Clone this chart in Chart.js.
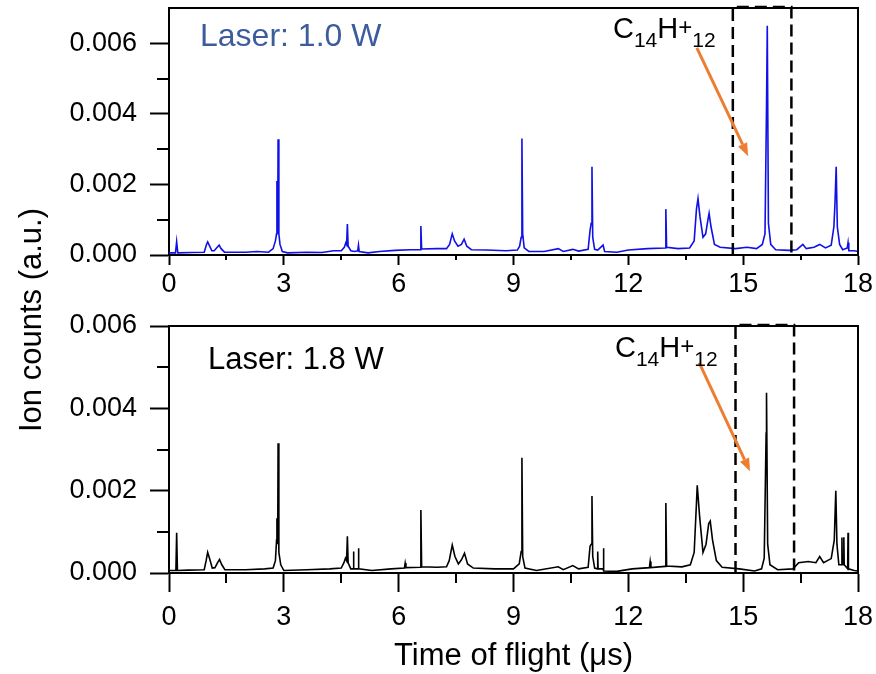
<!DOCTYPE html>
<html>
<head>
<meta charset="utf-8">
<script src="https://cdn.jsdelivr.net/npm/chart.js@4.4.1/dist/chart.umd.min.js"></script>
<style>
  body { margin: 0; background: #fff; }
  #wrap { position: relative; width: 876px; height: 674px; }
  canvas { position: absolute; left: 0; }
  #yTitle {
    position: absolute; left: 31px; top: 320px;
    transform: translate(-50%, -50%) rotate(-90deg);
    font: 31px "Liberation Sans", Arial, sans-serif; color: #000; white-space: nowrap;
  }
</style>
</head>
<body>
<div id="wrap">
  <canvas id="topChart" width="876" height="300" style="top:0"></canvas>
  <canvas id="bottomChart" width="876" height="374" style="top:300px"></canvas>
  <div id="yTitle">Ion counts (a.u.)</div>
</div>
<script>
// time of flight (us) and ion counts
const tof10W = [0.00, 0.17, 0.20, 0.23, 0.60, 0.92, 0.98, 1.01, 1.05, 1.12, 1.18, 1.26, 1.31, 1.36, 1.45,
  2.00, 2.30, 2.60, 2.72, 2.78, 2.81, 2.82, 2.84, 2.85, 2.87, 2.90, 2.96, 3.10, 3.60, 4.00, 4.30, 4.50,
  4.58, 4.62, 4.64, 4.66, 4.68, 4.75, 4.85, 4.93, 4.95, 4.97, 5.20, 5.50, 5.90, 6.30, 6.56, 6.58, 6.60,
  7.00, 7.25, 7.33, 7.40, 7.46, 7.55, 7.64, 7.71, 7.78, 7.90, 8.30, 8.80, 9.10, 9.16, 9.20, 9.22, 9.24,
  9.28, 9.40, 9.80, 10.17, 10.30, 10.55, 10.70, 10.95, 11.00, 11.03, 11.05, 11.07, 11.12, 11.20, 11.34,
  11.38, 11.70, 12.00, 12.50, 12.96, 12.98, 13.00, 13.30, 13.60, 13.72, 13.78, 13.82, 13.87, 13.95, 14.02,
  14.08, 14.11, 14.16, 14.25, 14.40, 14.80, 15.10, 15.35, 15.50, 15.57, 15.61, 15.63, 15.66, 15.72, 15.85,
  16.20, 16.40, 16.56, 16.65, 16.85, 17.00, 17.15, 17.30, 17.37, 17.40, 17.43, 17.46, 17.52, 17.60, 17.72,
  17.74, 17.76, 17.90, 18.00];
const counts10W = [0.00006, 0.00006, 0.00038, 0.00006, 0.00007, 0.00008, 0.0003, 0.00037, 0.00028, 0.00012, 0.00012, 0.00022, 0.00028, 0.00018, 0.00008,
  0.00008, 0.0001, 0.00008, 0.00018, 0.0004, 0.0006, 0.0021, 0.0006, 0.00328, 0.0006, 0.0003, 0.0001, 0.00006, 0.00008, 0.00007, 0.00012, 0.00012,
  0.00022, 0.00035, 0.0003, 0.00088, 0.00025, 0.00012, 0.0001, 0.00012, 0.00028, 0.0001, 0.00006, 0.0001, 0.00013, 0.00015, 0.00015, 0.00082, 0.00017,
  0.00018, 0.00018, 0.0003, 0.0006, 0.0004, 0.00025, 0.0003, 0.00045, 0.00025, 0.00015, 0.00014, 0.00012, 0.00014, 0.00025, 0.0005, 0.0033, 0.0006,
  0.0002, 0.0001, 0.0001, 0.00018, 0.0001, 0.00016, 0.00011, 0.00016, 0.0007, 0.0009, 0.0025, 0.0005, 0.00016, 0.00014, 0.00028,
  0.0001, 0.00008, 0.00014, 0.00018, 0.0002, 0.0013, 0.00022, 0.00018, 0.0002, 0.0004, 0.0013, 0.0016, 0.0011, 0.0005, 0.0006,
  0.001, 0.00118, 0.0008, 0.0003, 0.00022, 0.00018, 0.00022, 0.00018, 0.0003, 0.0006, 0.0042, 0.0065, 0.0009, 0.0003, 0.00015,
  0.00013, 0.00015, 0.0003, 0.00018, 0.00022, 0.0003, 0.0002, 0.00028, 0.0008, 0.0015, 0.0025, 0.0008, 0.0003, 0.00015, 0.0002,
  0.00035, 0.00012, 0.00012, 0.0001];

const tof18W = [0.00, 0.18, 0.20, 0.22, 0.50, 0.92, 0.97, 1.01, 1.06, 1.13, 1.20, 1.27, 1.32, 1.38, 1.46,
  2.00, 2.50, 2.72, 2.78, 2.81, 2.82, 2.84, 2.85, 2.87, 2.92, 3.00, 3.60, 4.20, 4.50, 4.57, 4.61, 4.64,
  4.66, 4.68, 4.75, 4.81, 4.82, 4.83, 4.94, 4.95, 4.96, 5.30, 5.80, 6.15, 6.17, 6.19, 6.56, 6.58, 6.60,
  7.00, 7.25, 7.32, 7.40, 7.47, 7.56, 7.64, 7.72, 7.80, 7.95, 8.50, 9.00, 9.15, 9.20, 9.22, 9.24, 9.30,
  9.60, 10.17, 10.30, 10.55, 10.70, 10.95, 11.00, 11.03, 11.05, 11.07, 11.12, 11.19, 11.20, 11.21, 11.34,
  11.35, 11.36, 11.70, 12.10, 12.55, 12.57, 12.59, 12.96, 12.98, 13.00, 13.40, 13.62, 13.72, 13.78, 13.80,
  13.86, 13.95, 14.03, 14.10, 14.14, 14.20, 14.30, 14.45, 14.90, 15.30, 15.48, 15.55, 15.60, 15.61, 15.64,
  15.70, 15.90, 16.30, 16.45, 16.70, 16.90, 17.00, 17.10, 17.30, 17.38, 17.42, 17.45, 17.50, 17.57, 17.58,
  17.59, 17.62, 17.63, 17.64, 17.73, 17.74, 17.75, 17.90, 18.00];
const counts18W = [0.00006, 0.00006, 0.00098, 0.00006, 0.00007, 0.00008, 0.0003, 0.0005, 0.00035, 0.00012, 0.00013, 0.00025, 0.00033, 0.0002, 0.00008,
  0.00008, 0.0001, 0.00012, 0.0003, 0.0008, 0.00133, 0.0007, 0.00315, 0.0005, 0.0002, 0.00006, 0.00008, 0.0001, 0.00012, 0.00025, 0.00036, 0.0003,
  0.00089, 0.00025, 0.0001, 0.0001, 0.00052, 0.0001, 0.0001, 0.0006, 0.0001, 0.00006, 0.0001, 0.00012, 0.00024, 0.00013, 0.00014, 0.00153, 0.00015,
  0.00014, 0.00015, 0.0003, 0.00068, 0.0004, 0.00022, 0.00032, 0.00048, 0.00022, 0.00012, 0.0001, 0.0001, 0.00022, 0.00052, 0.0028, 0.0004, 0.00012,
  0.00006, 0.00015, 0.00008, 0.00018, 0.0001, 0.00014, 0.00065, 0.0007, 0.00187, 0.0004, 0.00012, 0.0001, 0.00052, 0.0001, 0.0001,
  0.0006, 0.00005, 0.00004, 0.0001, 0.00013, 0.00028, 0.00013, 0.00016, 0.0017, 0.00017, 0.00015, 0.0002, 0.0005, 0.0017, 0.00213,
  0.0014, 0.0005, 0.0007, 0.0012, 0.00126, 0.0008, 0.0003, 0.00014, 0.0001, 0.00005, 0.0001, 0.00036, 0.0034, 0.00438, 0.0007,
  0.0002, 0.00008, 0.0001, 0.00025, 0.00028, 0.00025, 0.0004, 0.00025, 0.00035, 0.0008, 0.002, 0.0007, 0.0002, 0.0002, 0.00086,
  0.0002, 0.0002, 0.00087, 0.0002, 0.0001, 0.00098, 0.0001, 0.00006, 0.00005];

const FONT = '"Liberation Sans", Arial, sans-serif';
Chart.defaults.font.family = FONT;
Chart.defaults.color = '#000';

const isMajorY = v => Math.round(v * 1000) % 2 === 0;

// frame, minor ticks, dashed box, arrow and the text labels
const panelExtras = {
  id: 'panelExtras',
  afterDraw(chart, args, o) {
    const ctx = chart.ctx, a = chart.chartArea;
    const x = chart.scales.x, y = chart.scales.y;
    ctx.save();
    ctx.strokeStyle = '#000';
    ctx.lineWidth = 2;
    ctx.beginPath();
    ctx.moveTo(a.left - 1, a.top);
    ctx.lineTo(a.right, a.top);
    ctx.lineTo(a.right, a.bottom);
    ctx.stroke();

    // minor ticks
    ctx.beginPath();
    y.ticks.forEach(t => {
      if (isMajorY(t.value) || t.value >= y.max) return;
      const py = Math.round(y.getPixelForValue(t.value));
      ctx.moveTo(a.left - o.yMinorLen, py);
      ctx.lineTo(a.left, py);
    });
    for (let i = 0; i < x.ticks.length - 1; i++) {
      const px = Math.round(x.getPixelForValue((x.ticks[i].value + x.ticks[i + 1].value) / 2));
      ctx.moveTo(px, a.bottom);
      ctx.lineTo(px, a.bottom + o.xMinorLen);
    }
    ctx.stroke();

    // dashed box
    const bx1 = x.getPixelForValue(o.box[0]), bx2 = x.getPixelForValue(o.box[1]);
    ctx.setLineDash([12, 6]);
    ctx.lineWidth = 2.5;
    ctx.beginPath();
    ctx.moveTo(bx1, a.bottom);
    ctx.lineTo(bx1, a.top - 1);
    ctx.lineTo(bx2, a.top - 1);
    ctx.lineTo(bx2, a.bottom);
    ctx.stroke();
    ctx.setLineDash([]);

    // arrow
    const ax1 = x.getPixelForValue(o.arrow[0]), ay1 = y.getPixelForValue(o.arrow[1]);
    const ax2 = x.getPixelForValue(o.arrow[2]), ay2 = y.getPixelForValue(o.arrow[3]);
    const ang = Math.atan2(ay2 - ay1, ax2 - ax1);
    const head = 13, hw = 5;
    ctx.strokeStyle = ctx.fillStyle = '#ed7d31';
    ctx.lineWidth = 3;
    ctx.beginPath();
    ctx.moveTo(ax1, ay1);
    ctx.lineTo(ax2 - head * Math.cos(ang), ay2 - head * Math.sin(ang));
    ctx.stroke();
    ctx.beginPath();
    ctx.moveTo(ax2, ay2);
    ctx.lineTo(ax2 - head * Math.cos(ang) + hw * Math.sin(ang), ay2 - head * Math.sin(ang) - hw * Math.cos(ang));
    ctx.lineTo(ax2 - head * Math.cos(ang) - hw * Math.sin(ang), ay2 - head * Math.sin(ang) + hw * Math.cos(ang));
    ctx.closePath();
    ctx.fill();

    // laser label
    ctx.textBaseline = 'alphabetic';
    ctx.textAlign = 'left';
    ctx.fillStyle = o.labelColor;
    ctx.font = o.labelSize + 'px ' + FONT;
    ctx.fillText(o.label, a.left + o.labelPos[0], a.top + o.labelPos[1]);

    // C14H+12
    ctx.fillStyle = '#000';
    const parts = [['C', 29, 0], ['14', 21, 9], ['H', 29, 0], ['+', 24, -3], ['12', 21, 9]];
    let cx = a.left + o.formulaPos[0];
    const base = a.top + o.formulaPos[1];
    parts.forEach(p => {
      ctx.font = p[1] + 'px ' + FONT;
      ctx.fillText(p[0], cx, base + p[2]);
      cx += ctx.measureText(p[0]).width;
    });
    ctx.restore();
  }
};

function makePanel(id, xs, ys, o) {
  const pts = xs.map((v, i) => ({ x: v, y: ys[i] }));
  return new Chart(document.getElementById(id), {
    type: 'line',
    data: {
      datasets: [{
        data: pts,
        borderColor: o.color,
        borderWidth: 1.6,
        pointRadius: 0,
        tension: 0
      }]
    },
    options: {
      responsive: false,
      animation: false,
      events: [],
      layout: { padding: { left: 0, right: 18, top: o.padTop, bottom: 0 } },
      plugins: {
        legend: { display: false },
        tooltip: { enabled: false },
        panelExtras: o.extras
      },
      scales: {
        x: {
          type: 'linear',
          min: 0,
          max: 18,
          ticks: { stepSize: 3, font: { size: 27 }, padding: o.xTickPad, maxRotation: 0 },
          grid: { drawOnChartArea: false, tickLength: o.xTickLen, tickWidth: 2, tickColor: '#000' },
          border: { color: '#000', width: 2 },
          title: o.xTitle,
          afterFit(s) { s.height = o.xHeight; s.paddingLeft = 0; s.paddingRight = 0; }
        },
        y: {
          min: 0,
          max: o.yMax,
          ticks: {
            stepSize: 0.001,
            autoSkip: false,
            font: { size: 27 },
            padding: 13,
            callback: v => isMajorY(v) ? v.toFixed(3) : ''
          },
          grid: {
            drawOnChartArea: false,
            tickLength: 19,
            tickWidth: 2,
            tickColor: c => (c.tick && isMajorY(c.tick.value)) ? '#000' : 'rgba(0,0,0,0)'
          },
          border: { color: '#000', width: 2 },
          afterFit(s) { s.width = 169; s.paddingTop = 0; s.paddingBottom = 0; }
        }
      }
    },
    plugins: [panelExtras]
  });
}

makePanel('topChart', tof10W, counts10W, {
  color: '#1010e8',
  padTop: 8,
  yMax: 0.007,
  xHeight: 45,
  xTickLen: 10,
  xTickPad: 3,
  xTitle: { display: false },
  extras: {
    yMinorLen: 12, xMinorLen: 5,
    box: [14.73, 16.26],
    arrow: [13.79, 0.00587, 15.13, 0.0028],
    label: 'Laser: 1.0 W', labelColor: '#3d5c9e', labelSize: 32, labelPos: [31, 38],
    formulaPos: [444, 30]
  }
});

makePanel('bottomChart', tof18W, counts18W, {
  color: '#000',
  padTop: 26,
  yMax: 0.006,
  xHeight: 101,
  xTickLen: 19,
  xTickPad: 9,
  xTitle: {
    display: true,
    text: 'Time of flight (μs)',
    font: { size: 31, lineHeight: 1.0 },
    padding: { top: 0, bottom: 2 }
  },
  extras: {
    yMinorLen: 12, xMinorLen: 10,
    box: [14.8, 16.33],
    arrow: [13.85, 0.00511, 15.18, 0.00247],
    label: 'Laser: 1.8 W', labelColor: '#000', labelSize: 31, labelPos: [39, 43],
    formulaPos: [446, 31]
  }
});
</script>
</body>
</html>
